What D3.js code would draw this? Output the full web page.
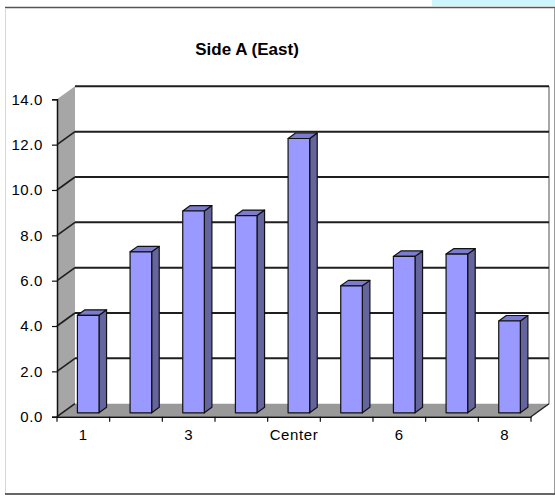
<!DOCTYPE html>
<html><head><meta charset="utf-8">
<script src="https://cdn.jsdelivr.net/npm/d3@7"></script>
<style>html,body{margin:0;padding:0;background:#fff;}svg{display:block;}</style>
</head><body>
<svg id="chart" width="555" height="498"></svg>
<script>
const categories = ["1","2","3","4","Center","5","6","7","8"];
const values = [4.3, 7.1, 8.9, 8.7, 12.1, 5.6, 6.9, 7.0, 4.05];
const shownLabels = ["1","3","Center","6","8"];
const yTicks = [0,2,4,6,8,10,12,14];
const title = "Side A (East)";

const svg = d3.select("#chart");
const DX = 18, DY = -13;          // full depth offset of the 3D box
const T0 = 0.3, T1 = 0.72;        // bar front/back depth fractions

const x = d3.scaleBand().domain(categories).range([57, 531]);
const y = d3.scaleLinear().domain([0, 14]).range([416.7, 99.3]);
const P = (px, py, t) => [px + DX * t, py + DY * t];

// outer frame & decoration
svg.append("rect").attr("x", 432).attr("y", 0).attr("width", 123).attr("height", 6).attr("fill", "#ccf6fb");
svg.append("line").attr("x1", 5).attr("x2", 555).attr("y1", 7.5).attr("y2", 7.5).attr("stroke", "#555").attr("stroke-width", 1.6);
svg.append("line").attr("x1", 5.5).attr("x2", 5.5).attr("y1", 8).attr("y2", 494).attr("stroke", "#d8d8d8");
svg.append("line").attr("x1", 554.5).attr("x2", 554.5).attr("y1", 8).attr("y2", 494).attr("stroke", "#9a9a9a");
svg.append("line").attr("x1", 5).attr("x2", 555).attr("y1", 494).attr("y2", 494).attr("stroke", "#333").attr("stroke-width", 1.6);

svg.append("text").attr("x", 247).attr("y", 55).attr("text-anchor", "middle")
  .attr("font-family", "Liberation Sans, Arial, sans-serif").attr("font-weight", "bold")
  .attr("font-size", 17).attr("fill", "#000").text(title);

const x0 = x.range()[0], x1 = x.range()[1];
const line = d3.line();

// side wall
svg.append("path").attr("d", line([P(x0,y(0),0), P(x0,y(14),0), P(x0,y(14),1), P(x0,y(0),1)]) + "Z")
  .attr("fill", "#a6a6a6");
// floor
svg.append("path").attr("d", line([P(x0,y(0),0), P(x1,y(0),0), P(x1,y(0),1), P(x0,y(0),1)]) + "Z")
  .attr("fill", "#999999");
// back wall right edge
svg.append("line").attr("x1", x1 + DX).attr("x2", x1 + DX).attr("y1", y(14) + DY).attr("y2", y(0) + DY)
  .attr("stroke", "#8a8a8a").attr("stroke-width", 1.5);

// gridlines
yTicks.forEach(v => {
  const g = svg.append("g");
  if (v > 0) {
    g.append("path").attr("d", line([P(x0, y(v), 1), P(x1, y(v), 1)]))
      .attr("stroke", "#1e1e1e").attr("stroke-width", 2).attr("fill", "none");
  }
  if (v < 14) {
    g.append("path").attr("d", line([P(x0, y(v), 0), P(x0, y(v), 1)]))
      .attr("stroke", "#1e1e1e").attr("stroke-width", 1.6).attr("fill", "none");
  }
});
// floor right edge
svg.append("path").attr("d", line([P(x1, y(0), 0), P(x1, y(0), 1)]))
  .attr("stroke", "#1e1e1e").attr("stroke-width", 1.4).attr("fill", "none");

// bars
const bw = x.bandwidth() * 0.41, boff = x.bandwidth() * 0.285;
categories.forEach((c, i) => {
  const v = values[i];
  const L = x(c) + boff, R = L + bw, B = y(0), Tp = y(v);
  const g = svg.append("g").attr("stroke", "#111").attr("stroke-width", 1.2).attr("stroke-linejoin", "round");
  g.append("path").attr("d", line([P(R,B,T0), P(R,Tp,T0), P(R,Tp,T1), P(R,B,T1)]) + "Z").attr("fill", "#65659e");
  g.append("path").attr("d", line([P(L,Tp,T0), P(R,Tp,T0), P(R,Tp,T1), P(L,Tp,T1)]) + "Z").attr("fill", "#7b7bcf");
  g.append("path").attr("d", line([P(L,B,T0), P(R,B,T0), P(R,Tp,T0), P(L,Tp,T0)]) + "Z").attr("fill", "#9999ff");
});

// y axis
const yAxis = d3.axisLeft(y).tickValues(yTicks).tickFormat(d3.format(".1f")).tickSizeOuter(0).tickSize(5).tickPadding(9);
const ya = svg.append("g").attr("transform", `translate(${x0},0)`).call(yAxis);
ya.select(".domain").attr("stroke", "#111").attr("stroke-width", 1.5);
ya.selectAll(".tick line").attr("stroke", "#111").attr("stroke-width", 1.2);
ya.selectAll("text").attr("font-family", "Liberation Sans, Arial, sans-serif").attr("font-size", 15)
  .attr("letter-spacing", 0.6).attr("fill", "#000");

// x axis
const xAxis = d3.axisBottom(x).tickSize(0).tickSizeOuter(0).tickPadding(13)
  .tickFormat(d => shownLabels.includes(d) ? d : "");
const xa = svg.append("g").attr("transform", `translate(0,${y(0)})`).call(xAxis);
xa.select(".domain").attr("stroke", "#111").attr("stroke-width", 1.5);
xa.selectAll("text").attr("font-family", "Liberation Sans, Arial, sans-serif").attr("font-size", 15)
  .attr("letter-spacing", 0.6).attr("fill", "#000");
// boundary ticks between categories
const bounds = categories.map(c => x(c)).concat([x1]);
xa.selectAll(".bound").data(bounds).join("line").attr("class", "bound")
  .attr("x1", d => d).attr("x2", d => d).attr("y1", 0).attr("y2", 5)
  .attr("stroke", "#111").attr("stroke-width", 1.2);
</script>
</body></html>
